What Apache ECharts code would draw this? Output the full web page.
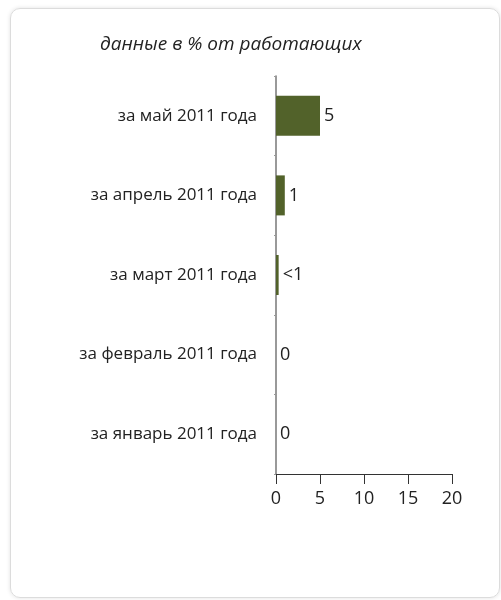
<!DOCTYPE html>
<html>
<head>
<meta charset="utf-8">
<script src="https://cdn.jsdelivr.net/npm/echarts@6/dist/echarts.min.js"></script>
<style>
  body { margin: 0; background: #fff; }
  .frame {
    position: absolute; left: 10px; top: 8px; width: 488px; height: 588px;
    border: 1px solid #dcdcdc; border-radius: 10px;
    box-shadow: 0 0 4px rgba(0, 0, 0, 0.12);
  }
  #chart { position: absolute; left: 0; top: 0; width: 501px; height: 600px; }
</style>
</head>
<body>
<div class="frame"></div>
<div id="chart"></div>
<script>
// категории сверху вниз
const months = ['за май 2011 года', 'за апрель 2011 года', 'за март 2011 года', 'за февраль 2011 года', 'за январь 2011 года']
const values = [5, 1, 0.3, 0, 0]
const valueLabels = ['5', '1', '<1', '0', '0']
const ticks = [0, 5, 10, 15, 20]

const font = 'Open Sans'
const chart = echarts.init(document.getElementById('chart'))
chart.setOption({
  title: {
    text: 'данные в % от работающих',
    left: 95, top: 30,
    textStyle: { fontFamily: font, fontStyle: 'italic', fontWeight: 'normal', fontSize: 19, color: '#222' }
  },
  grid: { left: 276, top: 76, width: 176, height: 398 },
  xAxis: {
    type: 'value',
    min: ticks[0], max: ticks[ticks.length - 1], interval: 5,
    splitLine: { show: false },
    axisLine: { show: true, lineStyle: { color: '#333', width: 1 } },
    axisTick: { show: true, length: 10, lineStyle: { color: '#333' } },
    axisLabel: { fontFamily: font, fontSize: 18, color: '#222', margin: 16 }
  },
  yAxis: {
    type: 'category',
    data: months,
    inverse: true,
    axisLine: { lineStyle: { color: '#777', width: 1.5 } },
    axisTick: { show: true, length: 2, lineStyle: { color: '#999' } },
    axisLabel: { fontFamily: font, fontSize: 17, color: '#222', margin: 19 }
  },
  series: [{
    type: 'bar',
    data: values,
    barWidth: 40,
    itemStyle: { color: '#52622a' },
    label: {
      show: true,
      position: 'right',
      distance: 4,
      fontFamily: font, fontSize: 18, color: '#222',
      formatter: p => valueLabels[p.dataIndex]
    }
  }]
})
</script>
</body>
</html>
